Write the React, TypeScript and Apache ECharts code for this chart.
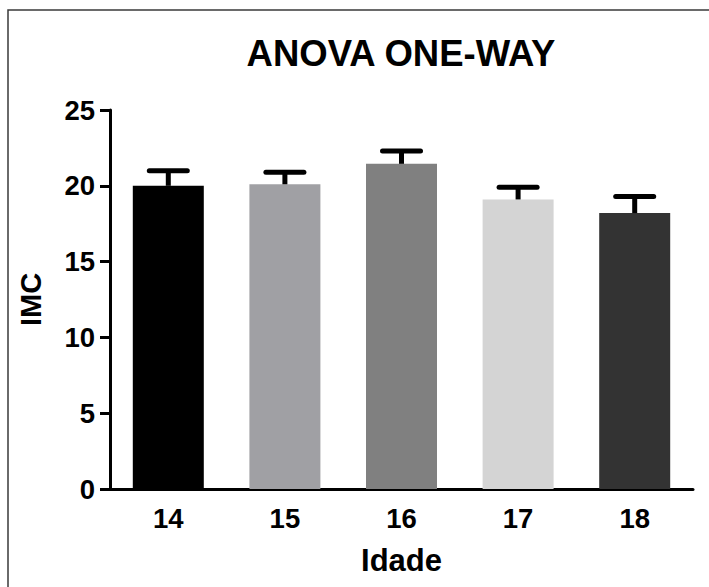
import React, { useEffect, useRef } from "react";
import * as echarts from "echarts";

const titleText = "ANOVA ONE-WAY";
const categories = ["14", "15", "16", "17", "18"];
const means = [20.0, 20.1, 21.45, 19.1, 18.2];
const upperErr = [21.0, 20.9, 22.3, 19.9, 19.3];
const barColors = ["#000000", "#a0a0a4", "#808080", "#d4d4d4", "#333333"];
const yTicks = { min: 0, max: 25, interval: 5 };
const xName = "Idade";
const yName = "IMC";

const FONT = "'Liberation Sans', Arial, Helvetica, sans-serif";

export default function App() {
  const ref = useRef<HTMLDivElement>(null);
  useEffect(() => {
    if (!ref.current) return;
    const chart = echarts.init(ref.current, null, { renderer: "svg" });
    const option: any = {
      animation: false,
      backgroundColor: "#ffffff",
      graphic: [
        {
          type: "rect",
          shape: { x: 8, y: 10, width: 760, height: 640 },
          style: { fill: "none", stroke: "#3a3a3a", lineWidth: 1.5 },
          silent: true,
        },
        {
          type: "text",
          x: 401,
          y: 53,
          style: {
            text: titleText,
            fontFamily: FONT,
            fontWeight: "bold",
            fontSize: 36.5,
            fill: "#000",
            textAlign: "center",
            textVerticalAlign: "middle",
          },
        },
      ],
      grid: { left: 110, right: 16, top: 110, bottom: 98, containLabel: false },
      xAxis: {
        type: "category",
        data: categories,
        name: xName,
        nameLocation: "middle",
        nameGap: 56,
        nameTextStyle: { fontFamily: FONT, fontWeight: "bold", fontSize: 31, color: "#000" },
        axisLine: { lineStyle: { color: "#000", width: 3 } },
        axisTick: { alignWithLabel: true, length: 10, lineStyle: { color: "#000", width: 3 } },
        axisLabel: { margin: 15, fontFamily: FONT, fontWeight: "bold", fontSize: 27.5, color: "#000" },
      },
      yAxis: {
        type: "value",
        min: yTicks.min,
        max: yTicks.max,
        interval: yTicks.interval,
        name: yName,
        nameLocation: "middle",
        nameRotate: 90,
        nameGap: 65,
        nameTextStyle: { fontFamily: FONT, fontWeight: "bold", fontSize: 29, color: "#000" },
        axisLine: { show: true, lineStyle: { color: "#000", width: 3 } },
        axisTick: { show: true, length: 10, lineStyle: { color: "#000", width: 3 } },
        axisLabel: { margin: 15, fontFamily: FONT, fontWeight: "bold", fontSize: 27.5, color: "#000" },
        splitLine: { show: false },
      },
      series: [
        {
          type: "bar",
          barWidth: 71,
          data: means.map((v, i) => ({ value: v, itemStyle: { color: barColors[i] } })),
          z: 2,
        },
        {
          type: "custom",
          z: 5,
          data: means.map((m, i) => [i, m, upperErr[i]]),
          renderItem: (params: any, api: any) => {
            const x = api.value(0);
            const base = api.coord([x, api.value(1)]);
            const top = api.coord([x, api.value(2)]);
            const half = 19;
            return {
              type: "group",
              children: [
                {
                  type: "line",
                  shape: { x1: base[0], y1: base[1], x2: top[0], y2: top[1] },
                  style: { stroke: "#000", lineWidth: 5 },
                },
                {
                  type: "line",
                  shape: { x1: top[0] - half, y1: top[1], x2: top[0] + half, y2: top[1] },
                  style: { stroke: "#000", lineWidth: 5, lineCap: "round" },
                },
              ],
            };
          },
        },
      ],
    };
    chart.setOption(option);
    return () => chart.dispose();
  }, []);
  return (
    <div
      ref={ref}
      style={{ position: "fixed", left: 0, top: 0, width: 709, height: 587 }}
    />
  );
}
